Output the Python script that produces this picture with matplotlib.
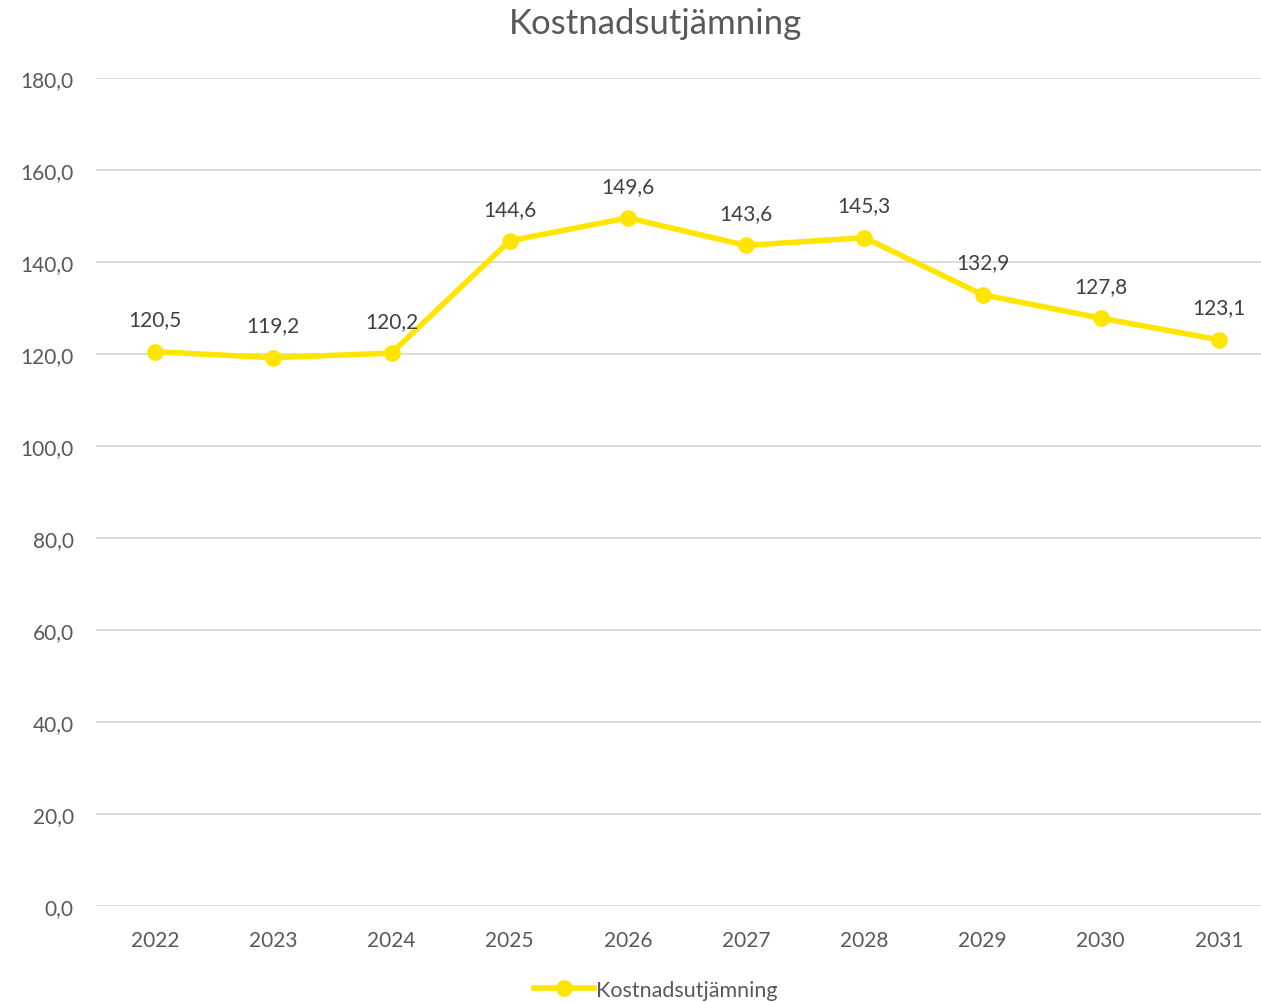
import matplotlib
matplotlib.use("Agg")
import matplotlib.pyplot as plt
from matplotlib.lines import Line2D

plt.rcParams['font.family'] = ['Lato', 'DejaVu Sans']

# data
years = ['2022', '2023', '2024', '2025', '2026', '2027', '2028', '2029', '2030', '2031']
values = [120.5, 119.2, 120.2, 144.6, 149.6, 143.6, 145.3, 132.9, 127.8, 123.1]
yticks = [0, 20, 40, 60, 80, 100, 120, 140, 160, 180]

gul = '#FFE500'
text_grey = '#595959'

fig = plt.figure(figsize=(12.61, 10.03), dpi=100)
ax = fig.add_axes([96 / 1261, 96 / 1003, 1182 / 1261, 828 / 1003])

x = list(range(len(years)))
ax.plot(x, values, color=gul, linewidth=4, marker='o', markersize=11, zorder=3)

# etiketter ovanför punkterna
for xi, v in zip(x, values):
    ax.annotate(f'{v:.1f}'.replace('.', ','), (xi, v), xytext=(0, 16),
                textcoords='offset points', ha='center', va='bottom',
                fontsize=15, color='#404040')

ax.set_xlim(-0.5, len(years) - 0.5)
ax.set_ylim(0, 180)
ax.set_xticks(x)
ax.set_xticklabels(years, fontsize=15, color=text_grey)
ax.set_yticks(yticks)
ax.set_yticklabels([f'{t:.1f}'.replace('.', ',') for t in yticks], fontsize=15, color=text_grey)
ax.tick_params(length=0)
ax.tick_params(axis='x', pad=17)
ax.tick_params(axis='y', pad=16)
ax.grid(axis='y', color='#D9D9D9', linewidth=1.3)
ax.set_axisbelow(True)
for s in ax.spines.values():
    s.set_visible(False)

fig.text(656 / 1261, 1 - 24 / 1003, 'Kostnadsutjämning', ha='center', va='center',
         fontsize=25, color=text_grey)

handle = Line2D([], [], color=gul, linewidth=4, marker='o', markersize=11)
fig.legend([handle], ['Kostnadsutjämning'], loc='center', bbox_to_anchor=(656 / 1261, 1 - 991 / 1003),
           frameon=False, fontsize=15.5, labelcolor=text_grey, handlelength=2.8, handletextpad=0.1)

fig.savefig('out.png', dpi=100)
